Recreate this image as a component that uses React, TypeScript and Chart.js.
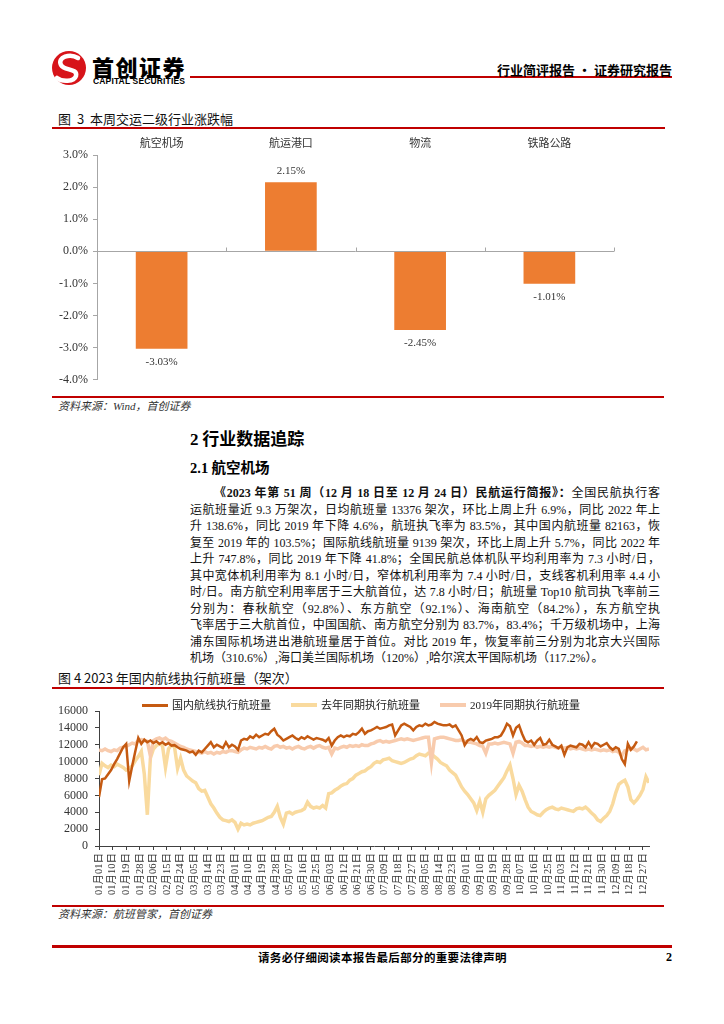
import React, { useEffect, useRef } from 'react';
import { Chart, registerables } from 'chart.js';

Chart.register(...registerables);

// ---------------- Chart 1 data ----------------
const barCategories = ['航空机场', '航运港口', '物流', '铁路公路'];
const barValues = [-3.03, 2.15, -2.45, -1.01];
const barTickValues = [3, 2, 1, 0, -1, -2, -3, -4];

// ---------------- Chart 2 data ----------------
const seriesNames = ['国内航线执行航班量', '去年同期执行航班量', '2019年同期执行航班量'];
const seriesColors = ['#C55A11', '#F9DA9E', '#F8CBAD'];
const dayStep = 2; // one value every 2 days, starting 01月01日
const tickEveryDays = 9;
const xTickLabels = [
  '01月01日', '01月10日', '01月19日', '01月28日', '02月06日', '02月15日', '02月24日', '03月05日', '03月14日', '03月23日',
  '04月01日', '04月10日', '04月19日', '04月28日', '05月07日', '05月16日', '05月25日', '06月03日', '06月12日', '06月21日',
  '06月30日', '07月09日', '07月18日', '07月27日', '08月05日', '08月14日', '08月23日', '09月01日', '09月10日', '09月19日',
  '09月28日', '10月07日', '10月16日', '10月25日', '11月03日', '11月12日', '11月21日', '11月30日', '12月09日', '12月18日',
  '12月27日',
];
const yTicks2 = [0, 2000, 4000, 6000, 8000, 10000, 12000, 14000, 16000];

const domestic2023 = [
  5800, 7900, 8000, 8500, 9000, 9700, 10300, 11000, 11700, 12100,
  7700, 9500, 11200, 12800, 12100, 12600, 12300, 12500, 12200, 12400,
  12100, 12300, 12000, 12200, 11900, 11950, 11700, 11500, 11400, 11300,
  11100, 11200, 10800, 11300, 11100, 11500, 11900, 12300, 11700, 12000,
  11800, 11600, 12300, 11700, 12000, 11800, 11400, 12500, 12700, 12600,
  13000, 12800, 13200, 12900, 13100, 13300, 13200, 13600, 13900, 13200,
  12900, 12500, 12700, 12900, 13100, 12800, 12600, 12900, 12700, 13000,
  12800, 12600, 12800, 12700, 12600, 12400, 12800, 11900, 12500, 12900,
  13100, 12900, 13100, 13000, 13300, 13200, 13500, 13900, 13300, 13600,
  13700, 13900, 14100, 13900, 14000, 14100, 14300, 14400, 13100, 13700,
  14300, 14500, 14300, 14100, 13700, 14100, 14300, 14200, 14500, 14300,
  14400, 14700, 14500, 14400, 14300, 14300, 14400, 14100, 14300, 13700,
  13100, 11950, 12500, 12700, 12500, 12900, 12300, 12200, 12500, 12600,
  12700, 12900, 12900, 13100, 13700, 14500, 14200, 13100, 14000, 14300,
  13300, 12500, 12300, 12500, 12000, 12500, 12800, 12000, 12100, 12600,
  12000, 11800, 11600, 11900, 10800, 11700, 11900, 11800, 11700, 12100,
  12000, 11700, 12300, 11700, 12200, 12100, 11800, 12000, 12200, 11700,
  11400, 11700, 11500, 10300, 9700, 12100, 11400, 11800, 12400,
];

const lastYear2022 = [
  8400, 9800, 9500, 9300, 9600, 9400, 9700, 9500, 9300, 9000,
  9200, 9500, 10100, 10600, 11200, 8500, 3700, 10400, 11500, 11900,
  12100, 11900, 9300, 11500, 12000, 11700, 9200, 10400, 9000, 8300,
  8000, 7700, 7500, 6800, 6500, 6600, 5800, 5000, 4500, 3900,
  3400, 3100, 3000, 2900, 3100, 2800, 2000, 2700, 2500, 2600,
  2500, 2700, 2800, 2900, 3000, 3200, 3400, 3500, 4000, 4700,
  3400, 2600, 3900, 4000, 3800, 4000, 4100, 4200, 4400, 5200,
  4700, 4500, 4600, 4500, 4800, 4500, 6200, 6300, 6600, 6800,
  7100, 7300, 7400, 7800, 8000, 8400, 8600, 8800, 8900, 9200,
  9400, 9800, 10000, 9900, 10200, 10300, 10400, 10100, 10000, 9900,
  9800, 9900, 10100, 10300, 10400, 10700, 10900, 10800, 10700, 11000,
  10900, 10600, 10300, 9900, 9700, 9500, 9000, 8700, 8400, 7700,
  7000, 6500, 6100, 5600, 5100, 4200, 5300, 4000, 5600, 6000,
  6300, 6600, 7100, 7600, 8100, 8900, 9600, 8000, 6100, 7200,
  6500, 5500, 4600, 4100, 3900, 3700, 3600, 4000, 4300, 4500,
  4600, 4400, 4300, 4500, 4400, 4300, 4200, 4100, 4400, 4500,
  4400, 4600, 4300, 3900, 3600, 3100, 2900, 3300, 3600, 4100,
  5000, 6300, 7300, 7600, 7800, 7000, 5500, 5100, 5500, 6000,
  6700, 8200, 7500,
];

const year2019 = [
  11400, 11300, 11500, 11300, 11200, 11400, 11300, 11600, 11700, 11800,
  12000, 12200, 12100, 12500, 12600, 12500, 12400, 10700, 12500, 12700,
  12800, 12600, 12800, 12500, 12400, 12200, 12000, 11800, 11700, 11500,
  11400, 11300, 11200, 11100, 11000, 11200, 11000, 11100, 10900, 11100,
  11000, 11200, 11100, 11300, 11300, 11200, 11100, 11400, 11600, 11500,
  11700, 11600, 11500, 11700, 11600, 11800, 11600, 11500, 11800, 11900,
  11700, 11800, 11600, 11700, 11500, 11700, 11800, 11600, 11500, 11700,
  11800, 11600, 11800, 11900, 11700, 11600, 11700, 10900, 11600, 11500,
  11700, 11800, 11700, 11900, 11800, 11900, 11800, 12000, 11900, 11900,
  12100, 12200, 12400, 12500, 12300, 12400, 12300, 12400, 12500, 12600,
  12700, 12600, 12700, 12600, 12500, 12600, 12700, 12800, 12900, 12900,
  9900, 12700, 12800, 12900, 12900, 12800, 12700, 12600, 12500, 12500,
  12600, 12400, 12300, 12300, 12200, 12100, 11900, 11800, 11000, 12100,
  12100, 12200, 12100, 12200, 12300, 12200, 12100, 11000, 12300, 12400,
  12200, 11900, 11900, 11800, 11900, 11700, 11800, 11700, 11800, 11700,
  11800, 11700, 11600, 11700, 11600, 11700, 11500, 11600, 11500, 11600,
  11500, 11400, 11500, 11400, 11500, 11400, 11300, 11400, 11300, 11400,
  11200, 11300, 11100, 10700, 11300, 11400, 11600, 11500, 11300, 11500,
  11700, 11400, 11500,
];

// ---------------- Text content ----------------
const paraFirstBold = '《2023 年第 51 周（12 月 18 日至 12 月 24 日）民航运行简报》：';
const paraFirstRest = '全国民航执行客';
const paraLines = [
  '运航班量近 9.3 万架次，日均航班量 13376 架次，环比上周上升 6.9%，同比 2022 年上',
  '升 138.6%，同比 2019 年下降 4.6%，航班执飞率为 83.5%，其中国内航班量 82163，恢',
  '复至 2019 年的 103.5%；国际航线航班量 9139 架次，环比上周上升 5.7%，同比 2022 年',
  '上升 747.8%，同比 2019 年下降 41.8%；全国民航总体机队平均利用率为 7.3 小时/日，',
  '其中宽体机利用率为 8.1 小时/日，窄体机利用率为 7.4 小时/日，支线客机利用率 4.4 小',
  '时/日。南方航空利用率居于三大航首位，达 7.8 小时/日；航班量 Top10 航司执飞率前三',
  '分别为：春秋航空（92.8%）、东方航空（92.1%）、海南航空（84.2%），东方航空执',
  '飞率居于三大航首位，中国国航、南方航空分别为 83.7%，83.4%；千万级机场中，上海',
  '浦东国际机场进出港航班量居于首位。对比 2019 年，恢复率前三分别为北京大兴国际',
  '机场（310.6%）,海口美兰国际机场（120%）,哈尔滨太平国际机场（117.2%）。',
];

const SERIF = "'Liberation Serif', 'Noto Sans CJK SC', serif";
const CJK = "'Noto Sans CJK SC', 'Liberation Sans', sans-serif";
const RED = '#C00000';

// ---------------- Plugins ----------------
const zeroLinePlugin = {
  id: 'zeroLine',
  afterDatasetsDraw(chart: any) {
    const { ctx, chartArea, scales } = chart;
    const y0 = Math.round(scales.y.getPixelForValue(0)) + 0.5;
    ctx.save();
    ctx.strokeStyle = '#A6A6A6';
    ctx.lineWidth = 1;
    ctx.beginPath();
    ctx.moveTo(chartArea.left, y0);
    ctx.lineTo(chartArea.right, y0);
    const n = barCategories.length;
    for (let i = 0; i < n; i++) {
      const xr = i < n - 1
        ? (scales.x.getPixelForValue(i) + scales.x.getPixelForValue(i + 1)) / 2
        : chartArea.right;
      const xx = Math.round(xr) + 0.5;
      ctx.moveTo(xx, y0);
      ctx.lineTo(xx, y0 - 4);
    }
    ctx.stroke();
    ctx.restore();
  },
};

const barLabelPlugin = {
  id: 'barLabels',
  afterDatasetsDraw(chart: any) {
    const { ctx } = chart;
    const meta = chart.getDatasetMeta(0);
    ctx.save();
    ctx.font = `11px ${SERIF}`;
    ctx.fillStyle = '#333';
    ctx.textAlign = 'center';
    ctx.textBaseline = 'middle';
    meta.data.forEach((bar: any, i: number) => {
      const v = barValues[i];
      const y = v >= 0 ? bar.y - 11 : bar.y + 13;
      ctx.fillText(v.toFixed(2) + '%', bar.x, y);
    });
    ctx.restore();
  },
};

// ---------------- Components ----------------
function BarChart() {
  const ref = useRef<HTMLCanvasElement>(null);
  useEffect(() => {
    const chart = new Chart(ref.current as HTMLCanvasElement, {
      type: 'bar',
      data: {
        labels: barCategories,
        datasets: [
          {
            data: barValues,
            backgroundColor: '#ED7D31',
            borderWidth: 0,
            barPercentage: 0.4,
            categoryPercentage: 1,
          },
        ],
      },
      options: {
        responsive: false,
        animation: false,
        layout: { padding: { left: 0, right: 66, top: 0, bottom: 8 } },
        plugins: { legend: { display: false }, tooltip: { enabled: false } },
        scales: {
          x: {
            position: 'top',
            grid: { display: false, drawTicks: false },
            border: { display: false },
            ticks: { font: { family: CJK, size: 11 }, color: '#333', padding: 6 },
            afterFit: (s: any) => { s.height = 25; },
          },
          y: {
            min: -4,
            max: 3,
            afterBuildTicks: (s: any) => { s.ticks = barTickValues.map((v) => ({ value: v })); },
            ticks: {
              autoSkip: false,
              callback: (v: any) => Number(v).toFixed(1) + '%',
              font: { family: SERIF, size: 12 },
              color: '#333',
              padding: 5,
            },
            grid: { drawOnChartArea: false, tickLength: 4, color: '#A6A6A6' },
            border: { color: '#A6A6A6' },
            afterFit: (s: any) => { s.width = 57; },
          },
        },
      } as any,
      plugins: [zeroLinePlugin, barLabelPlugin],
    });
    return () => chart.destroy();
  }, []);
  return (
    <canvas ref={ref} width={640} height={262} style={{ position: 'absolute', left: 40, top: 130 }} />
  );
}

function LineChart() {
  const ref = useRef<HTMLCanvasElement>(null);
  useEffect(() => {
    const toPoints = (arr: number[]) => arr.map((v, i) => ({ x: i * dayStep, y: v }));
    const chart = new Chart(ref.current as HTMLCanvasElement, {
      type: 'line',
      data: {
        datasets: [
          {
            label: seriesNames[0], data: toPoints(domestic2023), borderColor: seriesColors[0],
            borderWidth: 2.5, pointRadius: 0, tension: 0, order: 0,
          },
          {
            label: seriesNames[1], data: toPoints(lastYear2022), borderColor: seriesColors[1],
            borderWidth: 3.5, pointRadius: 0, tension: 0, order: 2,
          },
          {
            label: seriesNames[2], data: toPoints(year2019), borderColor: seriesColors[2],
            borderWidth: 3.5, pointRadius: 0, tension: 0, order: 1,
          },
        ],
      },
      options: {
        responsive: false,
        animation: false,
        layout: { padding: { left: 0, right: 31, top: 19, bottom: 0 } },
        plugins: { legend: { display: false }, tooltip: { enabled: false } },
        scales: {
          x: {
            type: 'linear',
            min: 0,
            max: 364,
            bounds: 'data',
            afterBuildTicks: (s: any) => { s.ticks = xTickLabels.map((_, i) => ({ value: i * tickEveryDays })); },
            ticks: {
              autoSkip: false,
              maxRotation: 90,
              minRotation: 90,
              callback: (_v: any, i: number) => xTickLabels[i],
              font: { family: SERIF, size: 10.5 },
              color: '#333',
              padding: 3,
            },
            grid: { drawOnChartArea: false, tickLength: 4, color: '#404040' },
            border: { color: '#404040' },
            afterFit: (s: any) => { s.height = 56; },
          },
          y: {
            min: 0,
            max: 16000,
            afterBuildTicks: (s: any) => { s.ticks = yTicks2.map((v) => ({ value: v })); },
            ticks: {
              autoSkip: false,
              callback: (v: any) => String(v),
              font: { family: SERIF, size: 12 },
              color: '#333',
              padding: 7,
            },
            grid: { drawOnChartArea: false, tickLength: 4, color: '#404040' },
            border: { color: '#404040' },
            afterFit: (s: any) => { s.width = 69; },
          },
        },
      } as any,
    });
    return () => chart.destroy();
  }, []);
  return (
    <canvas ref={ref} width={650} height={210} style={{ position: 'absolute', left: 30, top: 692 }} />
  );
}

function T(props: { x?: number; right?: number; y: number; size: number; children: any; style?: any }) {
  const { x, right, y, size, children, style } = props;
  const lh = Math.round(size * 1.3);
  return (
    <div
      style={{
        position: 'absolute',
        left: x,
        right,
        top: y - lh / 2,
        fontSize: size,
        lineHeight: lh + 'px',
        whiteSpace: 'nowrap',
        color: '#111',
        ...style,
      }}
    >
      {children}
    </div>
  );
}

function Rule(props: { x1: number; x2: number; y: number; h: number; color?: string }) {
  const { x1, x2, y, h, color } = props;
  return (
    <div style={{ position: 'absolute', left: x1, top: y - h / 2, width: x2 - x1, height: h, background: color || RED }} />
  );
}

const legendX = [142, 291, 440];
const legendWidths = [3, 4, 4];

export default function App() {
  const lineTop = 493;
  const lineGap = 16.5;
  return (
    <div
      style={{
        position: 'absolute', left: 0, top: 0, width: 724, height: 1024, background: '#fff',
        fontFamily: SERIF, overflow: 'hidden',
      }}
    >
      {/* Header */}
      <svg width={40} height={40} style={{ position: 'absolute', left: 49, top: 48 }}>
        <circle cx={20} cy={20} r={17} fill="#D7141A" />
        <path d="M 29 10 C 21 5, 8 9, 12 17 C 15 23, 29 20, 27 28 C 25 34, 13 34, 8 30" stroke="#fff" strokeWidth={4.5} fill="none" strokeLinecap="round" />
      </svg>
      <T x={92} y={66} size={22} style={{ fontFamily: CJK, fontWeight: 900, letterSpacing: 1.5, color: '#000' }}>首创证券</T>
      <T x={93} y={81.5} size={8.5} style={{ fontFamily: "'Liberation Sans', sans-serif", fontWeight: 700, letterSpacing: 0.15, color: '#000' }}>CAPITAL SECURITIES</T>
      <Rule x1={190} x2={672} y={77} h={2.5} />
      <T right={52} y={69} size={13} style={{ fontFamily: CJK, fontWeight: 700, color: '#000' }}>行业简评报告 · 证券研究报告</T>

      {/* Figure 3 */}
      <T x={58} y={118} size={13} style={{ fontFamily: CJK, wordSpacing: 3 }}>图 3 本周交运二级行业涨跌幅</T>
      <Rule x1={52} x2={665} y={128} h={1.5} />
      <BarChart />
      <Rule x1={52} x2={664} y={397} h={1.5} />
      <T x={58} y={406} size={11} style={{ fontFamily: SERIF, fontStyle: 'italic', color: '#333' }}>资料来源：Wind，首创证券</T>

      {/* Section */}
      <T x={190} y={438} size={17} style={{ fontFamily: CJK, fontWeight: 700, color: '#000' }}>
        <span style={{ fontFamily: SERIF }}>2</span> 行业数据追踪
      </T>
      <T x={190} y={466} size={14.5} style={{ fontFamily: CJK, fontWeight: 700, color: '#000' }}>
        <span style={{ fontFamily: SERIF }}>2.1</span> 航空机场
      </T>

      {/* Paragraph */}
      <div
        style={{
          position: 'absolute', left: 190, top: lineTop - 8, width: 470, height: 16, fontSize: 12,
          lineHeight: '16px', textAlign: 'justify', textAlignLast: 'justify', whiteSpace: 'nowrap', color: '#111',
          paddingLeft: 24, boxSizing: 'border-box',
        } as any}
      >
        <b>{paraFirstBold}</b>{paraFirstRest}
      </div>
      {paraLines.map((line, i) => (
        <div
          key={i}
          style={{
            position: 'absolute', left: 190, top: lineTop + (i + 1) * lineGap - 8, width: 470, height: 16,
            fontSize: 12, lineHeight: '16px', whiteSpace: 'nowrap', color: '#111',
            textAlign: i === paraLines.length - 1 ? 'left' : 'justify',
            textAlignLast: i === paraLines.length - 1 ? 'left' : 'justify',
          } as any}
        >
          {line}
        </div>
      ))}

      {/* Figure 4 */}
      <T x={58} y={677} size={13} style={{ fontFamily: CJK }}>图 4 2023 年国内航线执行航班量（架次）</T>
      <Rule x1={52} x2={664} y={688} h={1.5} />
      <LineChart />
      {seriesNames.map((name, i) => (
        <div key={name}>
          <div
            style={{
              position: 'absolute', left: legendX[i], top: 705 - legendWidths[i] / 2, width: 26,
              height: legendWidths[i], background: seriesColors[i],
            }}
          />
          <T x={legendX[i] + 30} y={705} size={11} style={{ fontFamily: SERIF, color: '#222' }}>{name}</T>
        </div>
      ))}
      <Rule x1={52} x2={664} y={906} h={1.5} />
      <T x={58} y={914} size={11} style={{ fontFamily: SERIF, fontStyle: 'italic', color: '#333' }}>资料来源：航班管家，首创证券</T>

      {/* Footer */}
      <Rule x1={52} x2={672} y={946} h={3} />
      <T x={258} y={957} size={11.5} style={{ fontFamily: CJK, fontWeight: 700, letterSpacing: 0.35, color: '#000' }}>请务必仔细阅读本报告最后部分的重要法律声明</T>
      <T x={666} y={957} size={12} style={{ fontFamily: SERIF, fontWeight: 700, color: '#000' }}>2</T>
    </div>
  );
}
